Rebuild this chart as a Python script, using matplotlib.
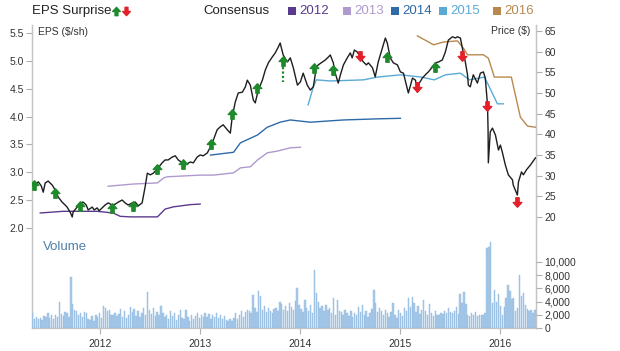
import numpy as np
import pandas as pd
import matplotlib
matplotlib.use("Agg")
import matplotlib.pyplot as plt
from matplotlib.path import Path
from matplotlib.lines import Line2D
from matplotlib.patches import Rectangle
import matplotlib.dates as mdates
from matplotlib.ticker import FuncFormatter

plt.rcParams['font.family'] = ['Liberation Sans', 'DejaVu Sans']

# ---------------- data ----------------
price_dates = [
    "2011-04-28", "2011-05-09", "2011-05-20", "2011-05-31", "2011-06-07", "2011-06-14", "2011-06-25",
    "2011-07-10", "2011-07-21", "2011-08-01", "2011-08-15", "2011-08-26", "2011-09-02", "2011-09-13",
    "2011-09-21", "2011-09-24", "2011-10-09", "2011-10-20", "2011-10-31", "2011-11-11", "2011-11-18",
    "2011-12-03", "2011-12-10", "2011-12-21", "2011-12-28", "2012-01-08", "2012-01-19", "2012-01-30",
    "2012-02-14", "2012-02-25", "2012-03-07", "2012-03-21", "2012-04-01", "2012-04-12", "2012-04-27",
    "2012-05-08", "2012-05-19", "2012-06-02", "2012-06-13", "2012-06-21", "2012-07-02", "2012-07-13",
    "2012-07-31", "2012-08-14", "2012-08-25", "2012-09-05", "2012-09-20", "2012-10-01", "2012-10-12",
    "2012-10-27", "2012-11-06", "2012-11-25", "2012-12-06", "2012-12-20", "2012-12-31", "2013-01-11",
    "2013-01-26", "2013-02-06", "2013-02-17", "2013-03-03", "2013-03-14", "2013-03-25", "2013-04-09",
    "2013-04-20", "2013-04-27", "2013-05-08", "2013-05-19", "2013-06-03", "2013-06-14", "2013-06-21",
    "2013-07-02", "2013-07-13", "2013-07-20", "2013-07-31", "2013-08-15", "2013-08-26", "2013-09-06",
    "2013-09-20", "2013-10-01", "2013-10-12", "2013-10-19", "2013-10-30", "2013-11-14", "2013-11-25",
    "2013-12-06", "2013-12-21", "2014-01-01", "2014-01-11", "2014-01-26", "2014-02-06", "2014-02-17",
    "2014-02-28", "2014-03-07", "2014-03-22", "2014-04-02", "2014-04-13", "2014-04-20", "2014-05-01",
    "2014-05-08", "2014-05-19", "2014-05-27", "2014-06-07", "2014-06-21", "2014-07-02", "2014-07-09",
    "2014-07-17", "2014-07-28", "2014-08-08", "2014-08-19", "2014-08-30", "2014-09-06", "2014-09-21",
    "2014-10-01", "2014-10-12", "2014-10-27", "2014-11-07", "2014-11-14", "2014-11-25", "2014-12-06",
    "2014-12-21", "2015-01-01", "2015-01-12", "2015-01-30", "2015-02-14", "2015-02-25", "2015-03-04",
    "2015-03-11", "2015-03-22", "2015-04-02", "2015-04-13", "2015-04-28", "2015-05-09", "2015-05-20",
    "2015-06-03", "2015-06-14", "2015-06-25", "2015-07-10", "2015-07-21", "2015-07-28", "2015-08-08",
    "2015-08-15", "2015-08-26", "2015-09-03", "2015-09-06", "2015-09-13", "2015-09-24", "2015-10-09",
    "2015-10-20", "2015-10-31", "2015-11-07", "2015-11-15", "2015-11-17", "2015-11-18", "2015-11-25",
    "2015-12-03", "2015-12-14", "2015-12-25", "2016-01-01", "2016-01-08", "2016-01-19", "2016-01-30",
    "2016-02-14", "2016-02-17", "2016-03-03", "2016-03-07", "2016-03-18", "2016-03-25", "2016-04-05",
    "2016-04-20", "2016-05-08",
]
prices = [
    28.2, 27.7, 28.5, 27.5, 26.0, 28.2, 28.7,
    27.7, 26.5, 24.8, 23.6, 22.9, 22.4, 21.2,
    20.0, 21.2, 22.4, 23.4, 23.6, 22.9, 21.7,
    22.4, 21.7, 22.2, 21.5, 22.2, 22.9, 23.4,
    22.9, 23.1, 23.6, 24.1, 23.4, 22.9, 23.4,
    23.6, 22.7, 23.4, 27.3, 30.6, 30.2, 30.6,
    31.9, 33.1, 33.8, 33.8, 34.5, 34.8, 33.8,
    33.1, 32.6, 33.3, 33.1, 34.5, 35.0, 34.8,
    35.5, 36.9, 38.6, 41.1, 41.8, 42.3, 41.1,
    40.3, 44.2, 47.8, 50.0, 50.2, 51.5, 53.1,
    51.9, 48.3, 47.6, 50.7, 53.1, 55.6, 57.3,
    58.7, 59.7, 61.1, 62.1, 59.2, 57.5, 58.5,
    56.1, 51.9, 52.7, 54.8, 51.9, 50.7, 51.5,
    56.1, 56.8, 57.5, 58.0, 58.7, 59.2, 57.3,
    54.8, 52.4, 54.4, 56.8, 58.5, 59.7, 58.5,
    60.4, 59.9, 58.5, 57.5, 56.8, 57.3, 56.1,
    53.9, 57.5, 60.9, 63.3, 62.1, 58.5, 57.3,
    56.8, 55.1, 54.8, 50.0, 53.6, 53.1, 50.2,
    52.4, 53.6, 54.4, 55.1, 56.3, 57.3, 57.5,
    58.0, 59.9, 62.8, 63.6, 63.3, 63.6, 63.3,
    60.9, 57.5, 54.4, 51.9, 51.5, 54.4, 52.4,
    54.8, 55.1, 53.6, 47.1, 41.1, 33.1, 40.6,
    41.5, 39.8, 36.2, 37.4, 35.7, 32.6, 30.2,
    29.0, 27.7, 25.3, 28.5, 30.9, 30.2, 31.4,
    32.6, 34.3,
]

cons_2012_dates = ["2011-05-27", "2011-08-19", "2011-12-21", "2012-02-17", "2012-03-14", "2012-04-20",
                   "2012-07-28", "2012-08-25", "2012-09-24", "2012-11-25", "2012-12-31"]
cons_2012 = [2.27, 2.30, 2.30, 2.27, 2.21, 2.20, 2.20, 2.34, 2.38, 2.42, 2.43]

cons_2013_dates = ["2012-01-30", "2012-05-01", "2012-07-28", "2012-08-20", "2012-09-02", "2012-12-31",
                   "2013-02-17", "2013-05-02", "2013-05-27", "2013-07-02", "2013-07-28", "2013-09-02",
                   "2013-10-08", "2013-11-25", "2014-01-01"]
cons_2013 = [2.75, 2.79, 2.81, 2.90, 2.92, 2.95, 2.95, 2.99, 3.08, 3.10, 3.22, 3.35, 3.38, 3.44, 3.45]

cons_2014_dates = ["2013-02-07", "2013-05-02", "2013-05-27", "2013-07-28", "2013-09-02", "2013-10-19",
                   "2013-11-25", "2014-02-06", "2014-06-07", "2014-10-09", "2015-01-01"]
cons_2014 = [3.31, 3.36, 3.53, 3.67, 3.81, 3.90, 3.94, 3.90, 3.94, 3.96, 3.97]

cons_2015_dates = ["2014-01-29", "2014-02-17", "2014-02-28", "2014-04-20", "2014-08-19", "2014-10-09",
                   "2015-01-01", "2015-03-18", "2015-05-05", "2015-06-14", "2015-08-08", "2015-09-10",
                   "2015-11-03", "2015-11-18", "2015-12-21", "2016-01-12"]
cons_2015 = [4.21, 4.53, 4.66, 4.64, 4.66, 4.71, 4.75, 4.71, 4.66, 4.75, 4.78, 4.66, 4.71, 4.57,
             4.23, 4.23]

cons_2016_dates = ["2015-03-04", "2015-05-02", "2015-06-08", "2015-07-28", "2015-08-19", "2015-09-03",
                   "2015-10-31", "2015-11-18", "2015-12-10", "2016-02-10", "2016-03-14", "2016-04-09",
                   "2016-05-08"]
cons_2016 = [5.45, 5.29, 5.34, 5.36, 5.23, 5.11, 5.11, 5.05, 4.71, 4.71, 3.99, 3.83, 3.81]

surprise_up_dates = ["2011-05-05", "2011-07-21", "2011-10-20", "2012-02-14", "2012-05-01", "2012-07-28",
                     "2012-10-31", "2013-02-10", "2013-04-27", "2013-07-28", "2013-10-30", "2014-02-21",
                     "2014-05-01", "2014-11-14", "2015-05-09"]
surprise_up_prices = [27.7, 25.8, 22.7, 22.2, 22.7, 31.6, 32.8, 37.7, 44.9, 51.2, 57.7, 56.1, 55.6,
                      58.7, 56.3]
surprise_down_dates = ["2014-08-08", "2015-03-04", "2015-08-15", "2015-11-12", "2016-03-03"]
surprise_down_prices = [59.0, 51.5, 59.0, 46.9, 23.6]

# weekly volume (thousands)
volume_start = "2011-04-29"
volume = [
    2.2, 1.4, 1.7, 1.3, 1.5, 1.2, 1.8, 1.6, 2.3, 1.5, 1.9, 1.4, 2.0,
    1.7, 4.0, 2.1, 1.8, 2.4, 2.2, 1.6, 7.7, 3.6, 2.8, 2.5, 1.9, 2.3,
    1.6, 2.4, 2.2, 1.4, 1.2, 1.8, 1.0, 2.0, 1.7, 2.2, 1.5, 3.3, 3.0,
    2.6, 2.8, 1.9, 2.0, 2.3, 1.8, 2.1, 2.9, 1.7, 2.6, 1.5, 2.0, 3.2,
    2.4, 2.9, 1.8, 2.5, 1.6, 2.2, 3.1, 2.0, 5.5, 2.7, 2.1, 3.0, 1.8,
    2.4, 1.9, 3.4, 2.2, 1.6, 2.0, 1.4, 2.6, 1.8, 2.3, 1.2, 1.9, 2.8,
    1.5, 1.3, 2.7, 1.6, 1.1, 2.0, 1.4, 1.8, 2.2, 1.5, 2.0, 1.7, 2.3,
    1.6, 2.1, 1.4, 1.9, 1.6, 2.2, 1.5, 2.0, 1.3, 1.8, 1.2, 1.0, 1.4,
    1.1, 1.5, 2.2, 1.3, 1.9, 2.5, 1.6, 2.4, 2.8, 2.6, 2.3, 5.0, 3.0,
    2.4, 5.6, 4.9, 2.8, 3.3, 2.4, 3.0, 2.6, 2.2, 2.9, 3.1, 2.5, 4.0,
    3.6, 2.8, 3.4, 2.5, 3.8, 3.2, 2.7, 4.1, 6.0, 3.5, 2.9, 2.4, 4.2,
    3.0, 2.6, 3.5, 2.2, 8.8, 5.3, 4.0, 3.1, 3.3, 2.6, 3.5, 2.8, 3.0,
    2.3, 4.5, 2.0, 4.2, 2.6, 2.4, 1.9, 2.8, 2.2, 1.8, 2.5, 1.7, 2.3,
    2.0, 3.2, 2.4, 3.5, 1.9, 2.6, 1.7, 2.2, 2.9, 5.8, 3.8, 2.4, 3.0,
    2.6, 1.9, 2.8, 2.2, 1.6, 2.4, 3.8, 2.0, 1.5, 2.7, 2.3, 1.8, 3.0,
    2.6, 4.5, 3.2, 4.7, 3.8, 2.4, 3.3, 2.1, 2.8, 4.2, 2.5, 1.9, 3.7,
    2.2, 1.8, 2.5, 2.0, 1.9, 2.3, 2.1, 2.6, 2.2, 3.0, 2.4, 2.3, 2.6,
    3.2, 2.1, 5.2, 3.8, 5.5, 3.6, 2.0, 1.8, 2.2, 1.9, 2.4, 1.8, 2.0,
    1.9, 2.0, 2.2, 12.1, 12.3, 13.1, 3.8, 5.8, 3.9, 5.2, 3.4, 2.0, 3.2,
    4.6, 6.5, 5.6, 4.4, 4.5, 2.5, 3.0, 8.0, 4.8, 5.3, 3.5, 2.9, 2.5,
    2.8, 2.3, 2.7, 2.9,
]

year_ticks = ["2012", "2013", "2014", "2015", "2016"]
eps_ticks = [2.0, 2.5, 3.0, 3.5, 4.0, 4.5, 5.0, 5.5]
price_ticks = [20, 25, 30, 35, 40, 45, 50, 55, 60, 65]
volume_ticks = [0, 2000, 4000, 6000, 8000, 10000]

legend_years = ["2012", "2013", "2014", "2015", "2016"]
legend_colors = ["#5a3a8e", "#b09acd", "#2e6aa8", "#5aaad6", "#b8894f"]

# ---------------- figure ----------------
W, H = 620, 351
fig = plt.figure(figsize=(W / 100, H / 100), dpi=100)
fig.patch.set_facecolor("white")

L, R, T, B = 32, 536, 25, 328
pos = [L / W, (H - B) / H, (R - L) / W, (B - T) / H]

ax = fig.add_axes(pos)
ax.set_facecolor("none")
axp = ax.twinx()
axv = fig.add_axes(pos, sharex=ax)
axv.set_facecolor("none")

xmin, xmax = pd.Timestamp("2011-04-27"), pd.Timestamp("2016-05-10")

# volume bars
vdates = pd.date_range(volume_start, periods=len(volume), freq="7D")
axv.bar(vdates, np.array(volume) * 1000, width=5.0, color="#a8cae9", edgecolor="#90b8df",
        linewidth=0.3, zorder=1)
axv.set_ylim(0, 45900)
axv.yaxis.tick_right()
axv.set_yticks(volume_ticks)
axv.yaxis.set_major_formatter(FuncFormatter(lambda v, p: f"{int(v):,}"))
for s in axv.spines.values():
    s.set_visible(False)
axv.tick_params(axis="x", bottom=False, labelbottom=False)

# EPS axis (left)
cons = [(cons_2012_dates, cons_2012), (cons_2013_dates, cons_2013), (cons_2014_dates, cons_2014),
        (cons_2015_dates, cons_2015), (cons_2016_dates, cons_2016)]
for (d, v), c in zip(cons, legend_colors):
    ax.plot(pd.to_datetime(d), v, color=c, lw=1.0, zorder=3)
ax.set_ylim(0.205, 5.645)
ax.set_yticks(eps_ticks)
ax.yaxis.set_major_formatter(FuncFormatter(lambda v, p: f"{v:.1f}"))

# price axis (right)
axp.plot(pd.to_datetime(price_dates), prices, color="#1e1e1e", lw=1.0, zorder=4)
axp.set_ylim(-6.86, 66.45)
axp.set_yticks(price_ticks)

# arrows
up_path = Path([(-1, 0), (0, 1.1), (1, 0), (0.38, 0), (0.38, -1.1), (-0.38, -1.1), (-0.38, 0), (-1, 0)],
               [Path.MOVETO] + [Path.LINETO] * 6 + [Path.CLOSEPOLY])
down_path = Path([(x, -y) for x, y in up_path.vertices], up_path.codes)
green, red = "#1e8a2c", "#e3202a"
axp.plot(pd.to_datetime(surprise_up_dates), surprise_up_prices, ls="none", marker=up_path,
         ms=6.8, color=green, mec=green, zorder=5)
axp.plot(pd.to_datetime(surprise_down_dates), surprise_down_prices, ls="none", marker=down_path,
         ms=6.8, color=red, mec=red, zorder=5)
# dotted stem below one surprise arrow
dd = pd.Timestamp(surprise_up_dates[10])
axp.plot([dd, dd], [surprise_up_prices[10] - 1.5, surprise_up_prices[10] - 5.0], color=green,
         lw=1.6, ls=(0, (1, 1)), zorder=5)

ax.set_xlim(xmin, xmax)
ax.xaxis.set_major_locator(mdates.YearLocator())
ax.xaxis.set_major_formatter(mdates.DateFormatter("%Y"))

spine_c = "#c4c4c4"
for a in (ax, axp):
    a.spines["top"].set_visible(False)
    for s in ("left", "right", "bottom"):
        a.spines[s].set_color(spine_c)
        a.spines[s].set_linewidth(0.9)
axp.spines["bottom"].set_visible(False)

tick_kw = dict(colors="#333333", labelsize=7.5, length=4, width=0.8)
ax.tick_params(axis="y", **tick_kw, pad=2)
axp.tick_params(axis="y", **tick_kw, pad=2)
axv.tick_params(axis="y", **tick_kw, pad=2)
ax.tick_params(axis="x", **tick_kw, pad=4)
for a in (ax, axp, axv):
    a.tick_params(axis="both", color="#b0b0b0")

# in-plot labels
ax.text(6 / (R - L), 1 - 7 / (B - T), "EPS ($/sh)", transform=ax.transAxes, fontsize=7.5,
        color="#333333", va="center", ha="left")
ax.text(1 - 6 / (R - L), 1 - 6 / (B - T), "Price ($)", transform=ax.transAxes, fontsize=7.5,
        color="#333333", va="center", ha="right")
ax.text(11 / (R - L), 1 - 222 / (B - T), "Volume", transform=ax.transAxes, fontsize=9.5,
        color="#4f80aa", va="center", ha="left")

# header
ty = 1 - 11 / H
fig.text(32 / W, ty, "EPS Surprise", fontsize=9.5, color="#222222", va="center", ha="left")
fig.add_artist(Line2D([116 / W], [ty], transform=fig.transFigure, marker=up_path, ms=6.0,
                      color=green, mec=green, ls="none"))
fig.add_artist(Line2D([126 / W], [ty], transform=fig.transFigure, marker=down_path, ms=6.0,
                      color=red, mec=red, ls="none"))
fig.text(203 / W, ty, "Consensus", fontsize=9.5, color="#222222", va="center", ha="left")
sq_x = [288, 343, 391, 439, 493]
for x0, yr, c in zip(sq_x, legend_years, legend_colors):
    fig.add_artist(Rectangle((x0 / W, ty - 4 / H), 8 / W, 8 / H, transform=fig.transFigure,
                             facecolor=c, edgecolor="none"))
    fig.text((x0 + 11) / W, ty, yr, fontsize=9.5, color=c, va="center", ha="left")

fig.savefig("out.png", dpi=100, facecolor="white")
